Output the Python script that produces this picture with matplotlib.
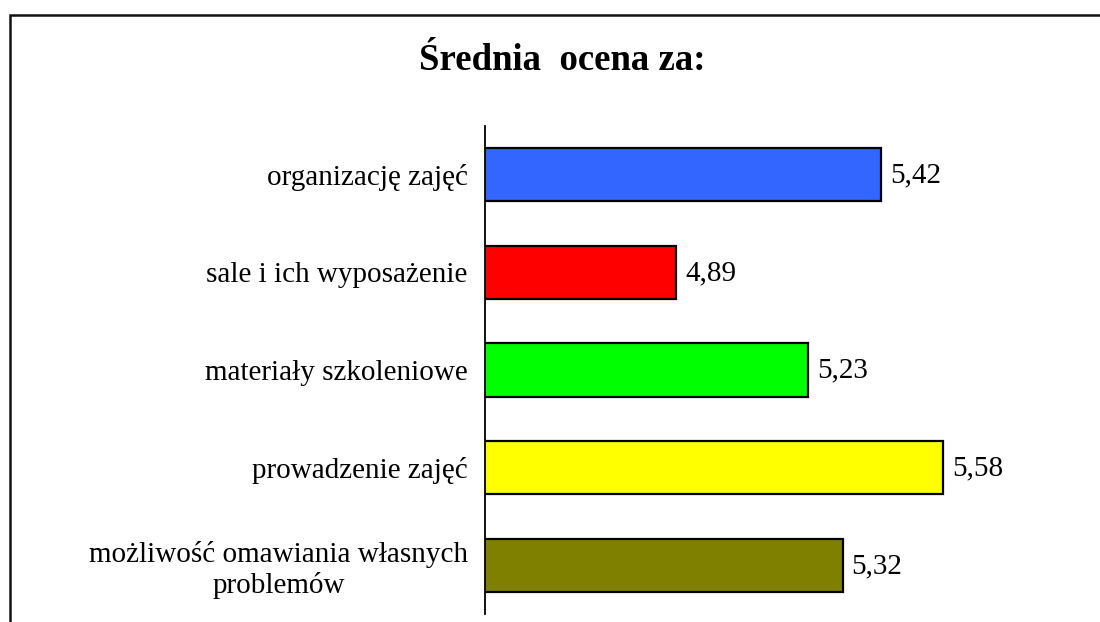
import matplotlib
matplotlib.use("Agg")
import matplotlib.pyplot as plt
from matplotlib.patches import Rectangle

categories = ["organizację zajęć", "sale i ich wyposażenie", "materiały szkoleniowe",
              "prowadzenie zajęć", "możliwość omawiania własnych\nproblemów"]
values = [5.42, 4.89, 5.23, 5.58, 5.32]
value_labels = ["5,42", "4,89", "5,23", "5,58", "5,32"]
colors = ["#3366FF", "#FF0000", "#00FF00", "#FFFF00", "#808000"]
title = "Średnia  ocena za:"

plt.rcParams['font.family'] = ['Liberation Serif', 'DejaVu Serif']

W, H = 1100, 622
fig = plt.figure(figsize=(W/100, H/100), dpi=100)
fig.patch.set_facecolor("white")

# outer frame
fig.patches.append(Rectangle((9.5/W, -0.05), 1.2, 1 - 14.5/H + 0.05, transform=fig.transFigure,
                             fill=False, edgecolor="#111111", linewidth=1.8))

left, right = 484.5/W, 1026.5/W
top, bottom = 1 - 126/H, 1 - 614/H
ax = fig.add_axes([left, bottom, right - left, top - bottom])
ax.set_facecolor("none")

y = list(range(len(categories)))
ax.barh(y, values, height=0.545, color=colors, edgecolor="black", linewidth=1.6, left=0)
ax.set_xlim(4.395, 5.795)
ax.set_ylim(len(categories) - 0.5, -0.5)

for yi, v, lab in zip(y, values, value_labels):
    ax.annotate(lab, (v, yi), xytext=(6.5, -0.5), textcoords="offset points",
                ha="left", va="center", fontsize=21)

ax.set_yticks(y)
ax.set_yticklabels(categories, fontsize=21, multialignment="center", linespacing=1.2)
ax.tick_params(axis="y", length=0, pad=12)
ax.set_xticks([])
for s in ["top", "right", "bottom"]:
    ax.spines[s].set_visible(False)
ax.spines["left"].set_linewidth(1.3)

fig.text(562/W, 1 - 61/H, title, ha="center", va="center", fontsize=26.5, fontweight="bold")

fig.savefig("out.png", dpi=100)
